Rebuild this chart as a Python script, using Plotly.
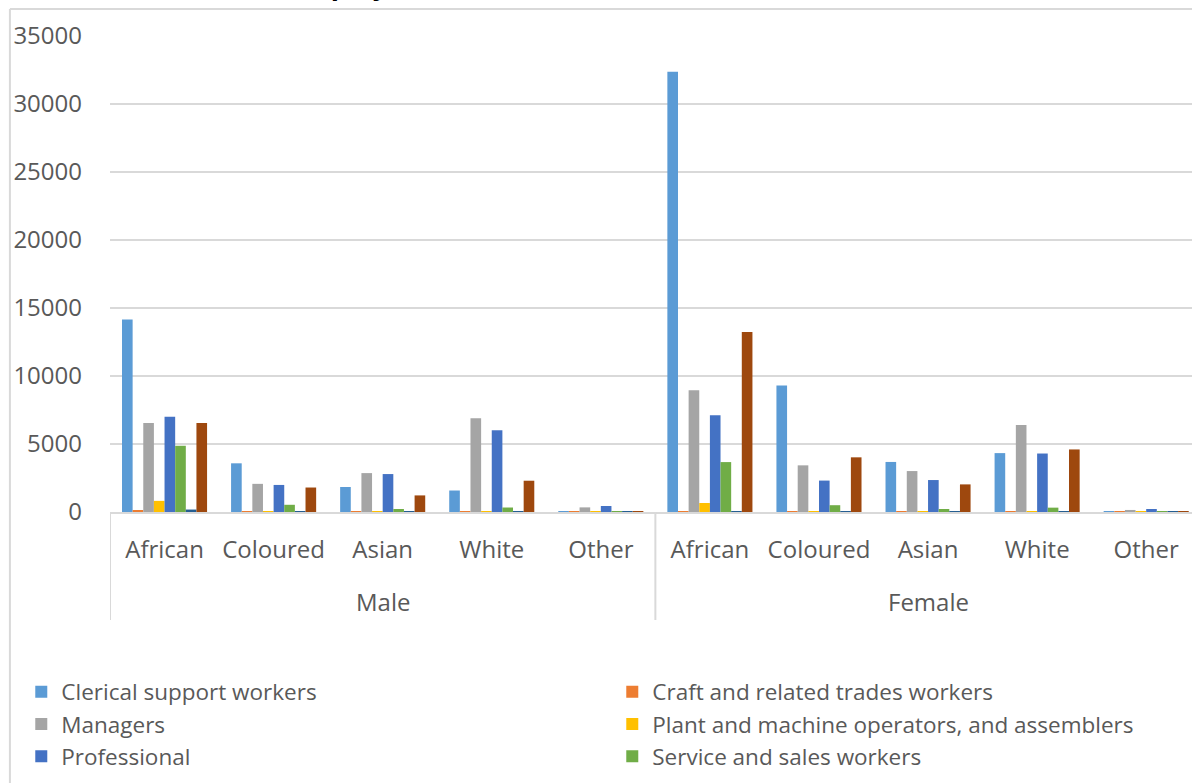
import plotly.graph_objects as go

# Categories
genders = ["Male", "Female"]
groups = ["African", "Coloured", "Asian", "White", "Other"]
occupations = [
    "Clerical support workers",
    "Craft and related trades workers",
    "Managers",
    "Plant and machine operators, and assemblers",
    "Professional",
    "Service and sales workers",
    "Skilled agricultural, forestry and fishery workers",
    "Technicians and associate professionals",
]

# Values per occupation: Male (African, Coloured, Asian, White, Other), then Female (same order)
clerical = [14150, 3580, 1840, 1580, 40, 32370, 9300, 3680, 4330, 60]
craft = [110, 20, 10, 15, 5, 40, 10, 5, 10, 5]
managers = [6540, 2070, 2860, 6900, 340, 8950, 3430, 3010, 6400, 150]
plant = [820, 10, 5, 10, 2, 660, 10, 5, 5, 2]
professional = [7000, 1990, 2790, 6010, 440, 7120, 2310, 2350, 4300, 220]
service = [4870, 530, 220, 330, 10, 3670, 500, 220, 320, 10]
skilled_agri = [180, 10, 5, 60, 2, 30, 5, 2, 10, 2]
technicians = [6540, 1800, 1220, 2300, 30, 13230, 4020, 2030, 4600, 50]

y_ticks = [0, 5000, 10000, 15000, 20000, 25000, 30000, 35000]
y_tick_labels = [str(v) for v in y_ticks]

series = [clerical, craft, managers, plant, professional, service, skilled_agri, technicians]
colors = ["#5B9BD5", "#ED7D31", "#A5A5A5", "#FFC000", "#4472C4", "#70AD47", "#255E91", "#9E480E"]

# one category slot per (gender, group) pair
x_keys = [f"{g} {r}" for g in genders for r in groups]
x_labels = [r for _ in genders for r in groups]

FONT = "Open Sans"
GREY_TEXT = "#595959"
GRID = "#D9D9D9"
PLOT_H = 476  # plot area height in px (used for paper offsets below the axis)

fig = go.Figure()
for i, (name, vals, col) in enumerate(zip(occupations, series, colors)):
    fig.add_trace(go.Bar(
        name=name,
        x=x_keys,
        y=vals,
        marker=dict(color=col, line=dict(width=0)),
        showlegend=i < 6,
    ))

n = len(groups)
shapes = [
    # chart frame
    dict(type="line", xref="paper", yref="paper",
         x0=-0.0925, x1=1.05, y0=1.0567, y1=1.0567,
         line=dict(color=GRID, width=2)),
    dict(type="line", xref="paper", yref="paper",
         x0=-0.0925, x1=-0.0925, y0=1.0567, y1=-0.7,
         line=dict(color=GRID, width=2)),
]
# dividers between gender groups on the category axis
for k in range(len(genders) + 1):
    shapes.append(dict(type="line", xref="x", yref="paper",
                       x0=k * n - 0.5, x1=k * n - 0.5,
                       y0=0, y1=-(620 - 512) / PLOT_H,
                       line=dict(color=GRID, width=2)))

annotations = [
    dict(text="<b>Employees</b>", xref="paper", yref="paper",
         x=(287 - 110) / 1082, y=1 + (36 - 4.5) / PLOT_H,
         xanchor="left", yanchor="bottom", showarrow=False,
         font=dict(size=27, color="black", family=FONT)),
]
# gender labels centred under each group
for k, g in enumerate(genders):
    annotations.append(dict(text=g, xref="x", yref="paper",
                            x=k * n + (n - 1) / 2, y=-(601 - 512) / PLOT_H,
                            xanchor="center", yanchor="middle", showarrow=False,
                            font=dict(size=24, color=GREY_TEXT, family=FONT)))

fig.update_layout(
    width=1192,
    height=783,
    barmode="group",
    bargap=0.22,
    bargroupgap=0,
    plot_bgcolor="white",
    paper_bgcolor="white",
    margin=dict(l=110, r=0, t=36, b=271, autoexpand=False),
    font=dict(family=FONT, color=GREY_TEXT),
    legend=dict(
        orientation="h",
        x=-0.082,
        xanchor="left",
        y=-0.333,
        yanchor="top",
        entrywidth=546,
        entrywidthmode="pixels",
        font=dict(size=22.5, color=GREY_TEXT, family=FONT),
        itemclick=False,
        traceorder="normal",
        bgcolor="rgba(0,0,0,0)",
    ),
    shapes=shapes,
    annotations=annotations,
)

fig.update_yaxes(
    range=[0, 35000],
    tickvals=y_ticks,
    ticktext=y_tick_labels,
    showgrid=True,
    gridcolor=GRID,
    gridwidth=2,
    zeroline=False,
    showline=False,
    tickfont=dict(size=24, color=GREY_TEXT, family=FONT),
    ticklabelstandoff=27,
)

fig.update_xaxes(
    type="category",
    range=[-0.5, len(x_keys) - 0.58],
    tickvals=x_keys,
    ticktext=x_labels,
    showline=True,
    linecolor=GRID,
    linewidth=2,
    showgrid=False,
    ticks="",
    ticklabelstandoff=15,
    tickfont=dict(size=24, color=GREY_TEXT, family=FONT),
)

fig.write_html("out.html")
